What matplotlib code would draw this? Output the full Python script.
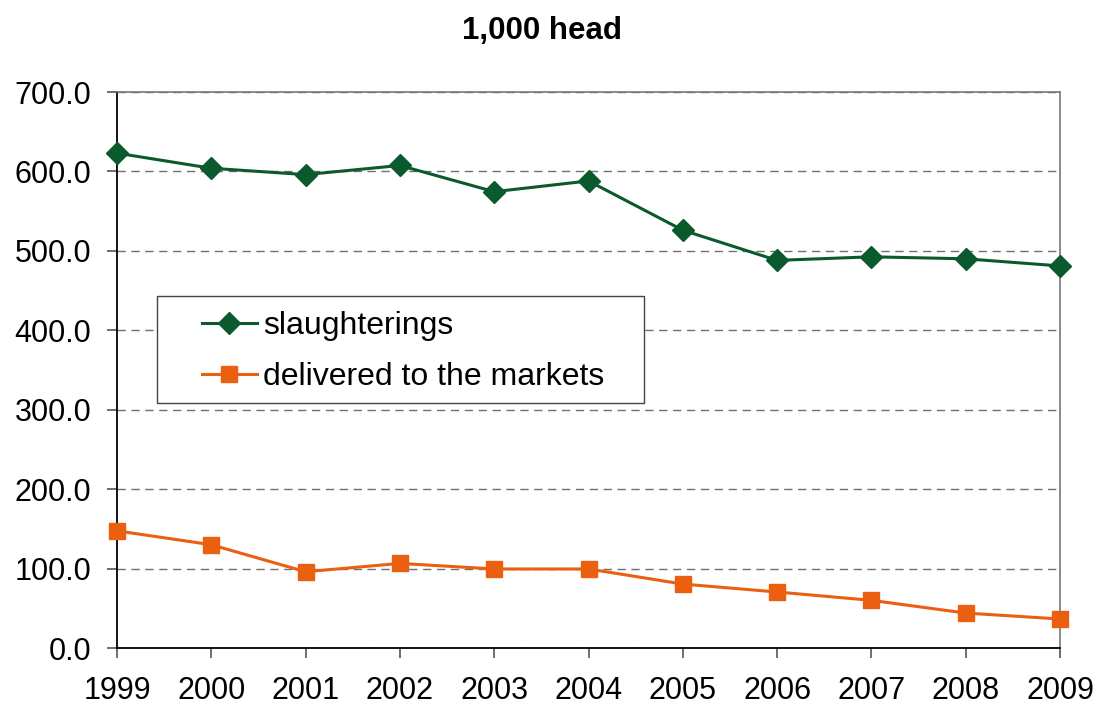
import matplotlib
matplotlib.use("Agg")
import matplotlib.pyplot as plt
from matplotlib.patches import Rectangle

years = [1999, 2000, 2001, 2002, 2003, 2004, 2005, 2006, 2007, 2008, 2009]
slaughterings = [623.0, 604.0, 596.0, 607.5, 574.5, 588.0, 526.0, 488.0, 492.5, 490.0, 481.0]
delivered = [147.5, 130.0, 96.0, 106.5, 99.5, 99.5, 80.5, 70.5, 60.0, 44.0, 36.5]

GREEN = "#0b5a2e"
ORANGE = "#eb5f10"
FS = 22

plt.rcParams["font.family"] = ["Liberation Sans", "DejaVu Sans"]

fig = plt.figure(figsize=(10.98, 7.07), dpi=100)
ax = fig.add_axes([117 / 1098, 1 - 648 / 707, 943 / 1098, 556 / 707])

ax.plot(years, slaughterings, color=GREEN, lw=2.2, marker="D", ms=11,
        label="slaughterings", clip_on=False, zorder=3)
ax.plot(years, delivered, color=ORANGE, lw=2.2, marker="s", ms=11.5,
        label="delivered to the markets", clip_on=False, zorder=3)

ax.set_xlim(1999, 2009)
ax.set_ylim(0, 700)
ax.set_xticks(years)
ax.set_yticks(range(0, 701, 100))
ax.set_yticklabels([f"{v:.1f}" for v in range(0, 701, 100)])
ax.tick_params(labelsize=FS, length=7.5, width=1.2, color="#555555")
ax.tick_params(axis="x", pad=13)
ax.tick_params(axis="y", pad=11)
ax.grid(axis="y", linestyle=(0, (6, 4)), color="#707070", lw=1)
ax.set_axisbelow(True)

for side in ["left", "bottom"]:
    ax.spines[side].set_color("black")
    ax.spines[side].set_linewidth(1.3)
for side in ["top", "right"]:
    ax.spines[side].set_color("#777777")
    ax.spines[side].set_linewidth(1.2)

fig.text(542 / 1098, 1 - 31 / 707, "1,000 head", ha="center", va="center",
         fontsize=22.5, fontweight="bold")

# legend box drawn separately so the padding matches the original
ax.add_patch(Rectangle((0.042, 0.44), 0.517, 0.193, transform=ax.transAxes,
                       facecolor="white", edgecolor="#444444", lw=1.0,
                       zorder=4, clip_on=False))
leg = ax.legend(loc="center left", bbox_to_anchor=(0.090, 0.533),
                fontsize=23, frameon=False, handlelength=1.72,
                labelspacing=0.66, borderpad=0, borderaxespad=0,
                handletextpad=0.2)
leg.set_zorder(5)

fig.savefig("out.png", dpi=100)
